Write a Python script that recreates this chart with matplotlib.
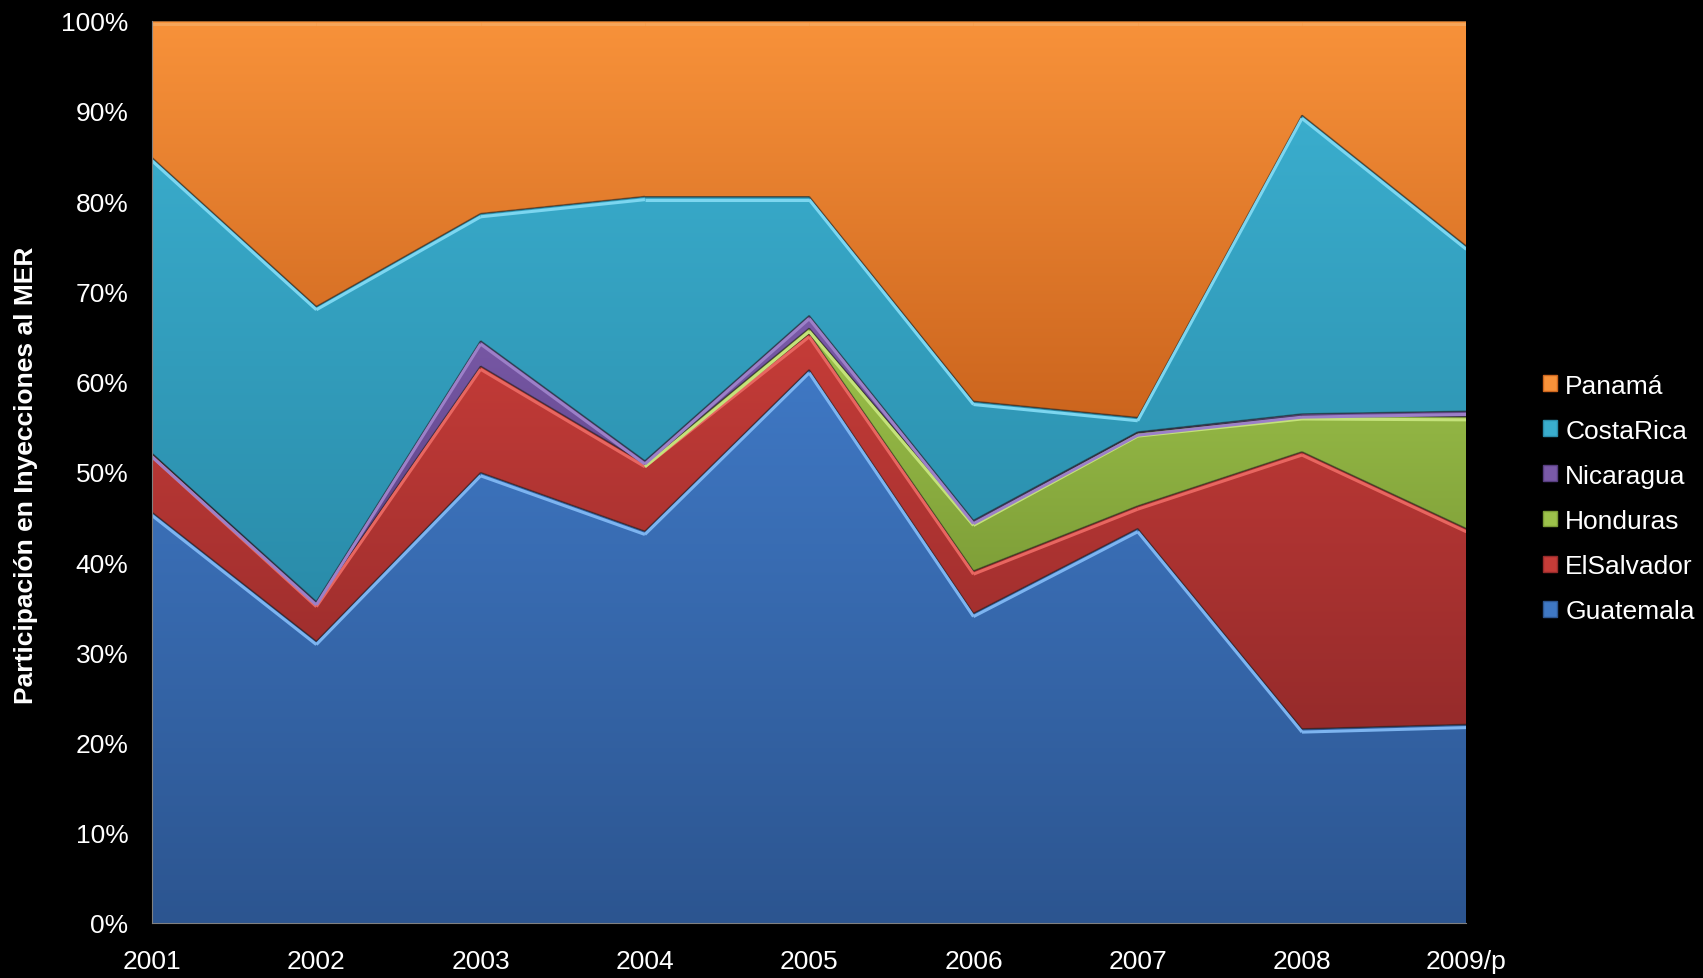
import numpy as np
import matplotlib
matplotlib.use("Agg")
import matplotlib.pyplot as plt
from matplotlib.colors import LinearSegmentedColormap
from matplotlib.patches import Patch, Polygon
from matplotlib.collections import LineCollection

plt.rcParams['font.family'] = ['Liberation Sans', 'DejaVu Sans']

# datos (participación %)
years = ['2001', '2002', '2003', '2004', '2005', '2006', '2007', '2008', '2009/p']
guatemala = [45.5, 31.2, 49.9, 43.4, 61.3, 34.3, 43.7, 21.5, 22.0]
elsalvador = [6.5, 4.2, 11.8, 7.5, 4.0, 4.7, 2.5, 30.7, 21.7]
honduras = [0.0, 0.0, 0.0, 0.0, 0.6, 5.4, 8.1, 4.0, 12.4]
nicaragua = [0.0, 0.2, 2.8, 0.3, 1.4, 0.2, 0.1, 0.2, 0.6]
costarica = [32.8, 32.7, 14.1, 29.3, 13.2, 13.2, 1.6, 33.1, 18.3]
panama = [15.2, 31.7, 21.4, 19.5, 19.5, 42.2, 44.0, 10.5, 25.0]

series = [guatemala, elsalvador, honduras, nicaragua, costarica, panama]
names = ['Guatemala', 'ElSalvador', 'Honduras', 'Nicaragua', 'CostaRica', 'Panamá']
# (claro, oscuro, borde superior)
colores = [('#3F78C4', '#2C5590', '#7DB4F0'),
           ('#C53C38', '#962B2B', '#E86660'),
           ('#9DC24B', '#7B9B36', '#C4E27A'),
           ('#7A5AA8', '#573E80', '#9C80C8'),
           ('#3AADCD', '#2A8CAA', '#7CD6F0'),
           ('#F8923A', '#CC651E', '#F5A55A')]

fig = plt.figure(figsize=(17.03, 9.79), dpi=100, facecolor='black')
ax = fig.add_axes([0.0893, 0.0562, 0.7717, 0.9218])
ax.set_facecolor('black')

x = np.arange(len(years))
data = np.array(series)
data = data / data.sum(axis=0) * 100
base = np.zeros(len(years))
for vals, (c1, c2, hl) in zip(data, colores):
    top = base + vals
    verts = np.vstack([np.column_stack([x, top]), np.column_stack([x[::-1], base[::-1]])])
    poly = Polygon(verts, closed=True, facecolor='none', edgecolor='none')
    ax.add_patch(poly)
    ylo, yhi = base.min(), top.max()
    cmap = LinearSegmentedColormap.from_list('g', [c2, c1])
    grad = np.linspace(0, 1, 256).reshape(-1, 1)
    im = ax.imshow(grad, extent=(0, len(years) - 1, ylo, yhi), origin='lower',
                   aspect='auto', cmap=cmap, zorder=2)
    im.set_clip_path(poly)
    # bordes solo donde la capa tiene grosor
    segs = [[(x[i], top[i]), (x[i + 1], top[i + 1])] for i in range(len(x) - 1)
            if vals[i] + vals[i + 1] > 0.01]
    segs_hl = [[(p[0], p[1] - 0.35) for p in s] for s in segs]
    ax.add_collection(LineCollection(segs, colors='#222222', linewidths=1.2, alpha=0.5, zorder=3))
    ax.add_collection(LineCollection(segs_hl, colors=hl, linewidths=2.2, zorder=4))
    base = top

ax.set_xlim(0, len(years) - 1)
ax.set_ylim(0, 100)
ax.set_xticks(x)
ax.set_xticklabels(years)
ax.set_yticks(np.arange(0, 101, 10))
ax.set_yticklabels([f'{v}%' for v in range(0, 101, 10)])
ax.tick_params(colors='white', labelsize=19, length=0)
ax.tick_params(axis='y', pad=17)
ax.tick_params(axis='x', pad=19)
for s in ['top', 'right']:
    ax.spines[s].set_visible(False)
for s in ['left', 'bottom']:
    ax.spines[s].set_color('#808080')
    ax.spines[s].set_zorder(5)

fig.text(0.015, 0.515, 'Participación en Inyecciones al MER', rotation=90,
         color='white', fontsize=19, fontweight='bold', va='center', ha='center',
         family=['Liberation Sans Narrow', 'Liberation Sans', 'DejaVu Sans'])

handles = [Patch(facecolor=c[0], edgecolor=c[1]) for c in colores][::-1]
leg = fig.legend(handles, names[::-1], loc='center left', bbox_to_anchor=(0.892, 0.49),
                 frameon=False, fontsize=19, labelcolor='white', handlelength=0.55,
                 handleheight=0.55, handletextpad=0.3, labelspacing=0.8)

plt.savefig('out.png', dpi=100, facecolor='black')
